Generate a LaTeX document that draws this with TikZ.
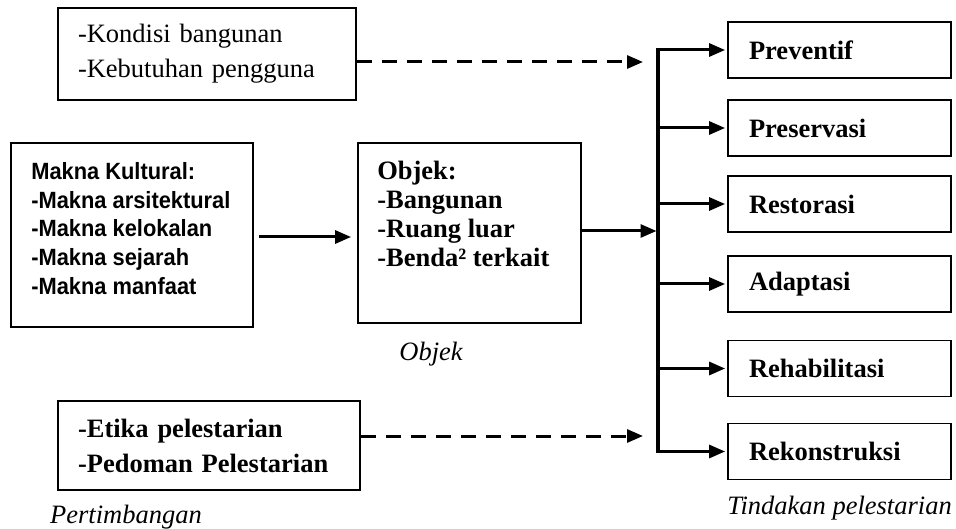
\documentclass[tikz,border=0pt]{standalone}
\usepackage{fontspec}
\setmainfont{Liberation Serif}
\setsansfont{Liberation Sans}
\newfontfamily\maknafont[FakeStretch=0.93]{Liberation Sans}
\usetikzlibrary{arrows.meta}

\begin{document}
\begin{tikzpicture}[x=1pt,y=1pt]
		\tikzstyle{every node}+=[inner sep=0pt]
		\tikzstyle{kotak}=[draw=black, line width=1.8pt, align=left, inner xsep=20pt, font=\fontsize{26.5}{35}\selectfont]
		\tikzstyle{aksi}=[kotak, inner xsep=21pt, text width=181pt, minimum height=56pt, font=\bfseries\fontsize{26.5}{32}\selectfont]
		\tikzstyle{panah}=[line width=3pt, -{Triangle[length=16pt,width=13pt]}]
		\tikzstyle{putus}=[panah, dash pattern=on 15pt off 10pt]
		\tikzstyle{ket}=[font=\itshape\fontsize{26.5}{32}\selectfont]
		\useasboundingbox (0,0) rectangle (956,-529);
		% kotak kiri
		\node [kotak, text width=258pt, minimum height=92pt] (kondisi) at (207,-54) {-Kondisi bangunan\\-Kebutuhan pengguna};
		\node [kotak, minimum width=242pt, minimum height=184pt] (makna) at (132,-235) {};
		\node [anchor=north west, align=left, font=\maknafont\bfseries\fontsize{23.5}{28.7}\selectfont] (maknateks) at ([shift={(21,-20)}]makna.north west) {Makna Kultural:\\-Makna arsitektural\\-Makna kelokalan\\-Makna sejarah\\-Makna manfaat};
		\node [kotak, minimum width=223pt, minimum height=180pt] (objek) at (469.5,-233) {};
		\node [anchor=north west, align=left, font=\bfseries\fontsize{26.5}{29}\selectfont] (objekteks) at ([shift={(20,-19)}]objek.north west) {Objek:\\-Bangunan\\-Ruang luar\\-Benda² terkait};
		\node [kotak, text width=262pt, minimum height=89pt, font=\bfseries\fontsize{26.5}{35}\selectfont] (etika) at (209,-445.5) {-Etika pelestarian\\-Pedoman Pelestarian};
		% tindakan
		\node [aksi] (preventif) at (839.5,-50) {Preventif};
		\node [aksi] (preservasi) at (839.5,-128) {Preservasi};
		\node [aksi] (restorasi) at (839.5,-204) {Restorasi};
		\node [aksi] (adaptasi) at (839.5,-284) {Adaptasi};
		\node [aksi] (rehabilitasi) at (839.5,-368.5) {Rehabilitasi};
		\node [aksi] (rekonstruksi) at (839.5,-451.5) {Rekonstruksi};
		% keterangan
		\node [ket] (objekket) at (431,-354) {Objek};
		\node [ket] (pertimbangan) at (126,-517) {Pertimbangan};
		\node [ket] (tindakan) at (839.5,-508) {Tindakan pelestarian};
		% panah
		\coordinate (bar) at (658,0);
		\coordinate (mo) at ([yshift=-2]makna.east);
		\draw [panah, shorten <=5pt, shorten >=6pt] (mo) -- (mo -| objek.west);
		\coordinate (ob) at ([yshift=2]objek.east);
		\draw [panah, shorten >=1.5pt] (ob) -- (ob -| bar);
		\draw [line width=3.5pt, line cap=rect] (bar |- preventif.west) -- (bar |- rekonstruksi.west);
		\foreach \n in {preventif,preservasi,restorasi,adaptasi,rehabilitasi,rekonstruksi}
			\draw [panah, shorten >=2pt] (bar |- \n.west) -- (\n.west);
		\coordinate (kd) at ([yshift=-8]kondisi.east);
		\draw [putus, shorten >=15pt] (kd) -- (kd -| bar);
		\coordinate (et) at ([yshift=9.5]etika.east);
		\draw [putus, shorten >=15pt] (et) -- (et -| bar);
\end{tikzpicture}
\end{document}
